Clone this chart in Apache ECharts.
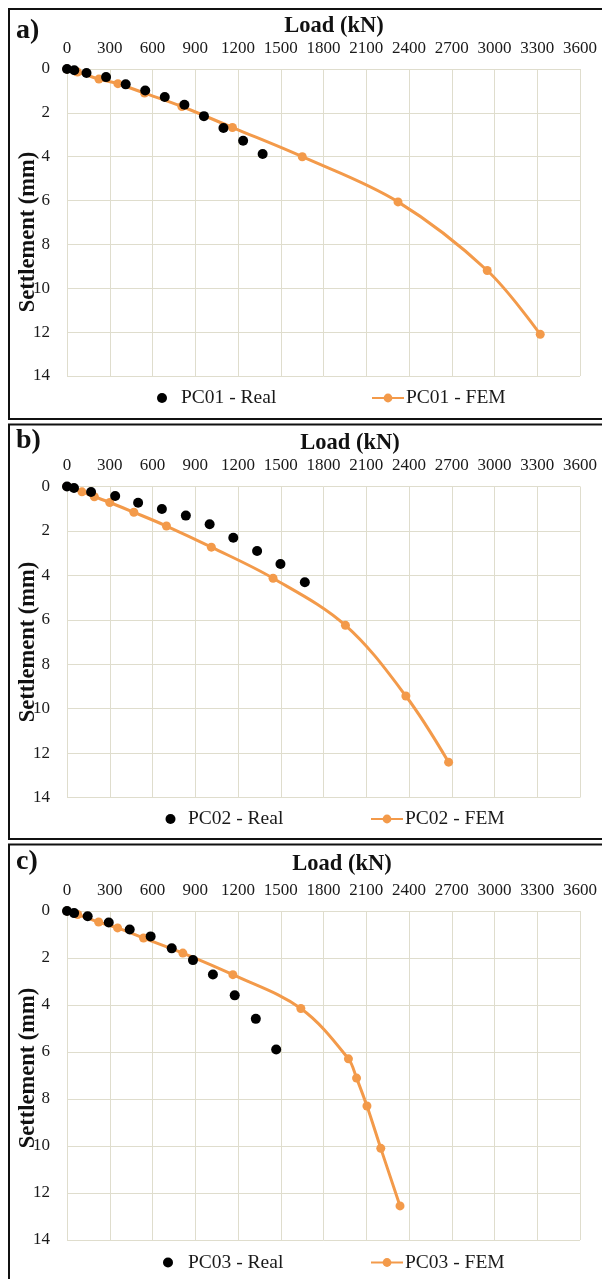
<!DOCTYPE html>
<html><head><meta charset="utf-8">
<script src="https://cdn.jsdelivr.net/npm/echarts@6/dist/echarts.min.js"></script>
<style>html,body{margin:0;padding:0;background:#fff}#c{width:602px;height:1279px}</style>
</head><body><div id="c"></div>
<script>
// ---- axis ticks ----
const loadTicks = [0, 300, 600, 900, 1200, 1500, 1800, 2100, 2400, 2700, 3000, 3300, 3600];
const settlementTicks = [0, 2, 4, 6, 8, 10, 12, 14];

// ---- panel labels / names ----
const panelLabels = ['a)', 'b)', 'c)'];
const realNames = ['PC01 - Real', 'PC02 - Real', 'PC03 - Real'];
const femNames = ['PC01 - FEM', 'PC02 - FEM', 'PC03 - FEM'];
const xTitle = 'Load (kN)';
const yTitle = 'Settlement (mm)';

// ---- PC01 ----
const pc01RealLoad = [0, 51, 137, 274, 412, 549, 686, 824, 961, 1098, 1236, 1373];
const pc01RealSettlement = [0, 0.06, 0.18, 0.37, 0.70, 0.98, 1.28, 1.63, 2.15, 2.69, 3.27, 3.88];
const pc01FemLoad = [0, 74, 224, 357, 544, 806, 1161, 1651, 2323, 2949, 3321];
const pc01FemSettlement = [0, 0.14, 0.46, 0.67, 1.10, 1.71, 2.67, 4.00, 6.06, 9.19, 12.10];

// ---- PC02 ----
const pc02RealLoad = [0, 49, 169, 338, 499, 666, 834, 1001, 1167, 1334, 1498, 1669];
const pc02RealSettlement = [0, 0.07, 0.25, 0.43, 0.73, 1.01, 1.31, 1.70, 2.31, 2.90, 3.49, 4.31];
const pc02FemLoad = [0, 105, 192, 300, 469, 698, 1013, 1446, 1954, 2378, 2678];
const pc02FemSettlement = [0, 0.24, 0.46, 0.72, 1.16, 1.78, 2.73, 4.13, 6.25, 9.43, 12.41];

// ---- PC03 ----
const pc03RealLoad = [0, 50, 145, 293, 440, 587, 735, 884, 1024, 1177, 1325, 1468];
const pc03RealSettlement = [0, 0.09, 0.22, 0.49, 0.79, 1.08, 1.59, 2.09, 2.70, 3.59, 4.59, 5.89];
const pc03FemLoad = [0, 75, 222, 355, 537, 813, 1164, 1641, 1975, 2032, 2105, 2202, 2337];
const pc03FemSettlement = [0, 0.15, 0.47, 0.72, 1.15, 1.79, 2.71, 4.15, 6.29, 7.11, 8.30, 10.10, 12.55];

const realLoads = [pc01RealLoad, pc02RealLoad, pc03RealLoad];
const realSett = [pc01RealSettlement, pc02RealSettlement, pc03RealSettlement];
const femLoads = [pc01FemLoad, pc02FemLoad, pc03FemLoad];
const femSett = [pc01FemSettlement, pc02FemSettlement, pc03FemSettlement];

// ---- layout (styles / positions) ----
const FONT = '"Liberation Serif", "Times New Roman", serif';
const ORANGE = '#F39A4A';
const GRIDC = '#DFDDCD';
const grids = [
  {left: 67, top: 69, width: 513, height: 307},
  {left: 67, top: 486.5, width: 513, height: 311},
  {left: 67, top: 911, width: 513, height: 329}
];
const boxes = [[9, 9, 640, 410], [9, 424.5, 640, 414.5], [9, 844.5, 640, 460]];
const panelLabelPos = [[16, 31], [16, 441], [16, 862]];
const xTitlePos = [[334, 26], [350, 443], [342, 864]];
const yTitlePos = [[28, 232], [28, 642], [28, 1068]];
const legendY = [398, 819, 1262.5];
const realLegendLeft = [157, 165.5, 163];
const realLegendPad = [9, 7.5, 10];
const femLegendLeft = [371, 370, 370];

const option = {
  backgroundColor: '#fff',
  animation: false,
  textStyle: {fontFamily: FONT},
  grid: grids.map(g => Object.assign({containLabel: false}, g)),
  xAxis: grids.map((g, i) => ({
    gridIndex: i, type: 'value', position: 'top',
    min: loadTicks[0], max: loadTicks[loadTicks.length - 1], interval: loadTicks[1] - loadTicks[0],
    axisLine: {show: false}, axisTick: {show: false},
    axisLabel: {fontFamily: FONT, fontSize: 17, color: '#1a1a1a', margin: 12, showMinLabel: true, showMaxLabel: true,
      formatter: v => String(v)},
    splitLine: {show: true, lineStyle: {color: GRIDC, width: 1}}
  })),
  yAxis: grids.map((g, i) => ({
    gridIndex: i, type: 'value', inverse: true,
    min: settlementTicks[0], max: settlementTicks[settlementTicks.length - 1], interval: settlementTicks[1] - settlementTicks[0],
    axisLine: {show: false}, axisTick: {show: false},
    axisLabel: {fontFamily: FONT, fontSize: 17, color: '#1a1a1a', margin: 17, formatter: v => String(v)},
    splitLine: {show: true, lineStyle: {color: GRIDC, width: 1}}
  })),
  legend: [],
  series: [],
  graphic: []
};

for (let i = 0; i < 3; i++) {
  option.series.push({
    name: realNames[i], type: 'scatter', xAxisIndex: i, yAxisIndex: i,
    symbol: 'circle', symbolSize: 10, z: 4,
    itemStyle: {color: '#000', opacity: 1},
    data: realLoads[i].map((x, k) => [x, realSett[i][k]])
  });
  option.series.push({
    name: femNames[i], type: 'line', xAxisIndex: i, yAxisIndex: i,
    symbol: 'circle', symbolSize: 9, showSymbol: true, smooth: 0.35, z: 3,
    lineStyle: {color: ORANGE, width: 3},
    itemStyle: {color: ORANGE},
    data: femLoads[i].map((x, k) => [x, femSett[i][k]])
  });
  option.legend.push({
    data: [{name: realNames[i], icon: 'circle'}],
    left: realLegendLeft[i], top: legendY[i] - 10, padding: 0,
    itemWidth: 10, itemHeight: 10,
    itemStyle: {opacity: 1},
    textStyle: {fontFamily: FONT, fontSize: 19.5, color: '#1a1a1a', lineHeight: 20, padding: [0, 0, 0, realLegendPad[i]]}
  });
  option.legend.push({
    data: [femNames[i]],
    left: femLegendLeft[i], top: legendY[i] - 10, padding: 0,
    itemWidth: 32, itemHeight: 11,
    textStyle: {fontFamily: FONT, fontSize: 19.5, color: '#1a1a1a', lineHeight: 20, padding: [0, 0, 0, -3]}
  });
  option.graphic.push({
    type: 'rect', silent: true, z: 10,
    shape: {x: boxes[i][0], y: boxes[i][1], width: boxes[i][2], height: boxes[i][3]},
    style: {fill: 'none', stroke: '#111', lineWidth: 2}
  });
  option.graphic.push({
    type: 'text', x: panelLabelPos[i][0], y: panelLabelPos[i][1], z: 10,
    style: {text: panelLabels[i], font: 'bold 28px ' + FONT, fill: '#111', textAlign: 'left', textVerticalAlign: 'middle'}
  });
  option.graphic.push({
    type: 'text', x: xTitlePos[i][0], y: xTitlePos[i][1], z: 10,
    style: {text: xTitle, font: 'bold 22.5px ' + FONT, fill: '#111', textAlign: 'center', textVerticalAlign: 'middle'}
  });
  option.graphic.push({
    type: 'text', x: yTitlePos[i][0], y: yTitlePos[i][1], rotation: Math.PI / 2, z: 10,
    style: {text: yTitle, font: 'bold 22.5px ' + FONT, fill: '#111', textAlign: 'center', textVerticalAlign: 'middle'}
  });
}

const chart = echarts.init(document.getElementById('c'), null, {renderer: 'canvas'});
chart.setOption(option);
</script>
</body></html>
